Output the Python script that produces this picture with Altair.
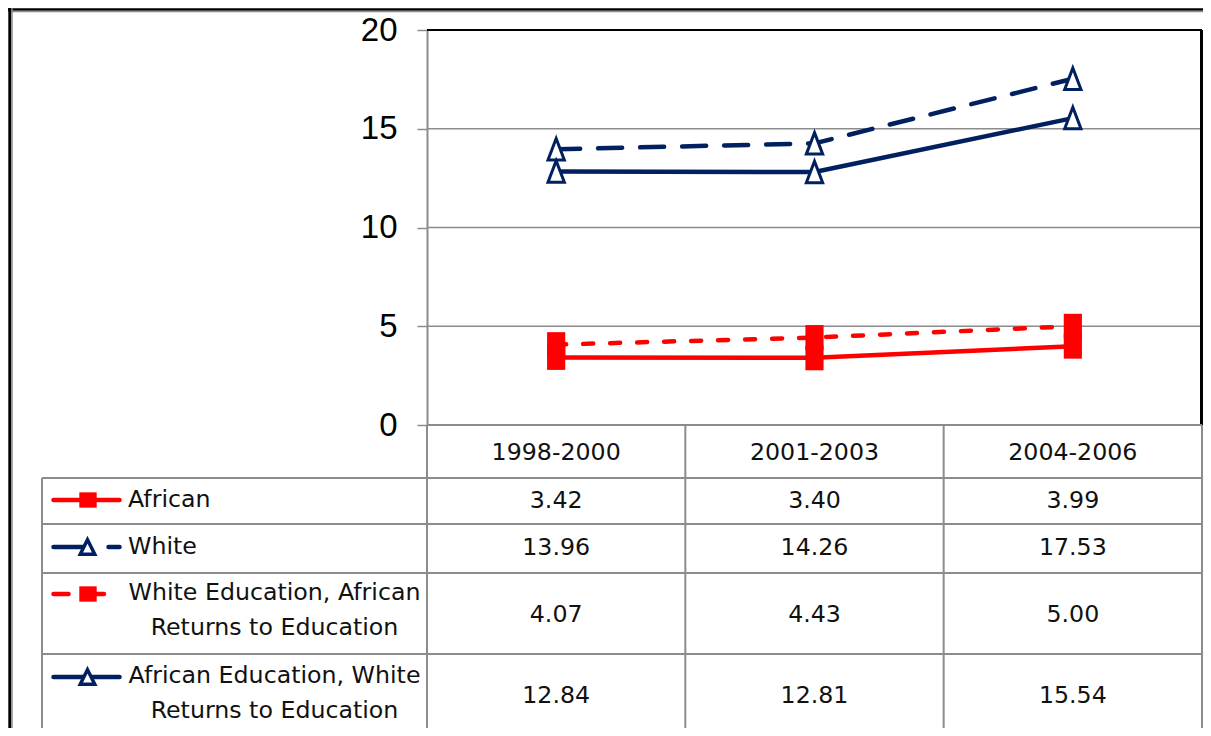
import altair as alt
import pandas as pd

# ---------------- data ----------------
periods = ["1998-2000", "2001-2003", "2004-2006"]
african = [3.42, 3.40, 3.99]
white = [13.96, 14.26, 17.53]
white_edu_african_ret = [4.07, 4.43, 5.00]
african_edu_white_ret = [12.84, 12.81, 15.54]
series_labels = [
    "African",
    "White",
    "White Education, African\nReturns to Education",
    "African Education, White\nReturns to Education",
]
y_ticks = [0, 5, 10, 15, 20]
grid_vals = [5, 10, 15]

# ---------------- styles / layout ----------------
RED = "#FF0000"
NAVY = "#002060"
GRAY = "#8c8c8c"
TXT = "#111111"
TF = "DejaVu Sans"
TFS = 23.7

W, H = 1195, 720
PX0, PX1 = 419, 1194          # plot left / right
PY0, PY1 = 22, 417            # plot top / bottom
ROW_LINES = [470, 516, 565, 646]
TAB_LEFT = 34
TAB_BOTTOM = 720
HEADER_Y = 445
ROW_Y = [493, 540, 606.5, 687.5]      # value text centres
LEG_SYM_Y = [492, 539, 586, 669]      # legend symbol centres
LEG_TEXT_LINE_H = 35

SQ = "M-0.73,-1H0.73V1H-0.73Z"
TRI = "M0,-1L0.76,1L-0.76,1Z"
SQ_LEG = "M-1,-0.88H1V0.88H-1Z"
TRI_LEG = "M0,-1L1,1L-1,1Z"

xscale = alt.Scale(type="band", domain=periods, range=[PX0, PX1],
                   paddingInner=0, paddingOuter=0)
yscale = alt.Scale(domain=[0, 20], range=[PY1, PY0], nice=False, zero=False)

x_enc = alt.X("period:N", scale=xscale, axis=None)
y_enc = alt.Y(
    "value:Q", scale=yscale,
    axis=alt.Axis(values=y_ticks, offset=-PX0, tickSize=10, tickColor=GRAY,
                  tickWidth=1.5, domainColor=GRAY, domainWidth=2,
                  labelFont="Liberation Sans", labelFontSize=33,
                  labelColor="black", labelPadding=20, title=None, grid=False,
                  labelBaseline="middle"),
)

one = pd.DataFrame({"a": [0]})


def sdf(vals):
    return pd.DataFrame({"period": periods, "value": vals})


def hrule(x1, x2, y, color=GRAY, w=2):
    return alt.Chart(one).mark_rule(color=color, strokeWidth=w).encode(
        x=alt.value(x1), x2=alt.value(x2), y=alt.value(y))


def vrule(x, y1, y2, color=GRAY, w=2):
    return alt.Chart(one).mark_rule(color=color, strokeWidth=w).encode(
        x=alt.value(x), y=alt.value(y1), y2=alt.value(y2))


def seg(x1, x2, y, color, w=4.5):
    return alt.Chart(one).mark_rule(color=color, strokeWidth=w, strokeCap="round").encode(
        x=alt.value(x1), x2=alt.value(x2), y=alt.value(y))


def sym(x, y, shape, size, fill, stroke=None, sw=0):
    kw = dict(shape=shape, size=size, filled=True, fill=fill, opacity=1)
    if stroke:
        kw.update(stroke=stroke, strokeWidth=sw)
    else:
        kw.update(strokeWidth=0)
    return alt.Chart(one).mark_point(**kw).encode(x=alt.value(x), y=alt.value(y))


layers = []

# frame
layers += [hrule(0, W, 1.5, "#000000", 2.4), hrule(0, W, 3.5, GRAY, 1.6),
           vrule(1.8, 0, H, "#000000", 3), vrule(4, 0, H, GRAY, 1.5)]

# gridlines and plot border
grid = alt.Chart(pd.DataFrame({"value": grid_vals})).mark_rule(
    color=GRAY, strokeWidth=1.5).encode(y=y_enc, x=alt.value(PX0), x2=alt.value(PX1))
top = alt.Chart(pd.DataFrame({"value": [20]})).mark_rule(
    color="#000000", strokeWidth=2).encode(y=y_enc, x=alt.value(PX0), x2=alt.value(PX1))
layers += [grid, top, vrule(PX1 - 0.5, PY0, PY1, "#000000", 3)]

# table lines
layers += [hrule(PX0, PX1, PY1)]
for yl in ROW_LINES:
    layers.append(hrule(TAB_LEFT, PX1, yl))
layers += [vrule(TAB_LEFT, ROW_LINES[0], TAB_BOTTOM), vrule(PX0, PY1, TAB_BOTTOM),
           vrule(PX1, PY1, TAB_BOTTOM)]
col_sep = alt.Chart(pd.DataFrame({"period": periods[1:]})).mark_rule(
    color=GRAY, strokeWidth=2).encode(
    x=alt.X("period:N", scale=xscale, axis=None, bandPosition=0),
    y=alt.value(PY1), y2=alt.value(TAB_BOTTOM))
layers.append(col_sep)

# series lines
specs = [
    (african, RED, None, "sq"),
    (white, NAVY, [24, 18], "tri"),
    (white_edu_african_ret, RED, [10, 17], "sq"),
    (african_edu_white_ret, NAVY, None, "tri"),
]
for vals, color, dash, mk in specs:
    lkw = dict(color=color, strokeWidth=4.5, strokeCap="round", strokeJoin="round")
    if dash:
        lkw["strokeDash"] = dash
    layers.append(alt.Chart(sdf(vals)).mark_line(**lkw).encode(x=x_enc, y=y_enc))
    if mk == "sq":
        pm = alt.Chart(sdf(vals)).mark_point(shape=SQ, size=620, filled=True,
                                             fill=RED, strokeWidth=0, opacity=1)
    else:
        pm = alt.Chart(sdf(vals)).mark_point(shape=TRI, size=462, filled=True,
                                             fill="white", stroke=NAVY,
                                             strokeWidth=3, opacity=1)
    layers.append(pm.encode(x=x_enc, y=y_enc))

# table header
layers.append(alt.Chart(pd.DataFrame({"period": periods})).mark_text(
    font=TF, fontSize=TFS, color=TXT, baseline="middle").encode(
    x=x_enc, y=alt.value(HEADER_Y), text="period:N"))

# table values
for (vals, *_), ry in zip(specs, ROW_Y):
    layers.append(alt.Chart(sdf(vals)).mark_text(
        font=TF, fontSize=TFS, color=TXT, baseline="middle").encode(
        x=x_enc, y=alt.value(ry), text=alt.Text("value:Q", format=".2f")))

# legend symbols
layers += [seg(45.5, 111.5, LEG_SYM_Y[0], RED),
           sym(80, LEG_SYM_Y[0], SQ_LEG, 303, RED)]
layers += [seg(45.5, 79, LEG_SYM_Y[1], NAVY), seg(100.5, 111.5, LEG_SYM_Y[1], NAVY),
           sym(79.5, LEG_SYM_Y[1], TRI_LEG, 210, "white", NAVY, 3.5)]
layers += [seg(45.5, 60.5, LEG_SYM_Y[2], RED), seg(80, 96, LEG_SYM_Y[2], RED),
           sym(80, LEG_SYM_Y[2], SQ_LEG, 303, RED)]
layers += [seg(45.5, 111.5, LEG_SYM_Y[3], NAVY),
           sym(79.5, LEG_SYM_Y[3], TRI_LEG, 210, "white", NAVY, 3.5)]

# legend text
for label, sy in zip(series_labels, LEG_SYM_Y):
    lines = label.split("\n")
    if len(lines) == 1:
        layers.append(alt.Chart(pd.DataFrame({"t": lines})).mark_text(
            font=TF, fontSize=TFS, color=TXT, baseline="middle", align="left").encode(
            x=alt.value(120), y=alt.value(sy), text="t:N"))
    else:
        for i, ln in enumerate(lines):
            layers.append(alt.Chart(pd.DataFrame({"t": [ln]})).mark_text(
                font=TF, fontSize=TFS, color=TXT, baseline="middle", align="center").encode(
                x=alt.value(266.5), y=alt.value(sy - 0.7 + i * LEG_TEXT_LINE_H), text="t:N"))

chart = alt.layer(*layers).properties(
    width=W, height=H, padding=0,
    autosize=alt.AutoSizeParams(type="none"),
    background="white",
).configure_view(stroke=None)

chart.save("out.html", embed_options={"renderer": "svg", "actions": False})
